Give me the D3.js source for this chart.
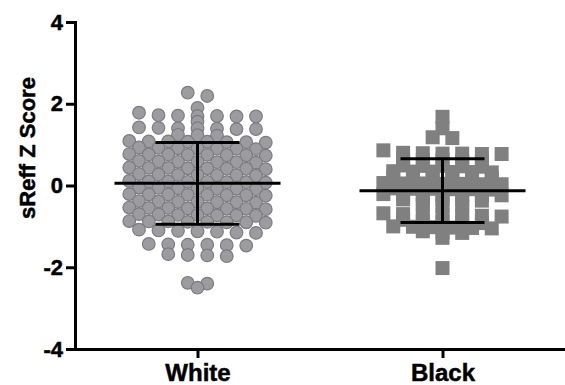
<!DOCTYPE html>
<html>
<head>
<meta charset="utf-8">
<script src="https://cdn.jsdelivr.net/npm/d3@7"></script>
<style>
  body { margin: 0; background: #fff; }
  text { font-family: "Liberation Sans", Arial, sans-serif; font-weight: bold; fill: #000; }
</style>
</head>
<body>
<div id="chart"></div>
<script>
// data
const categories = ["White", "Black"];

const whiteValues = [
  2.27, 2.19,
  1.90,
  1.78, 1.72, 1.71, 1.70, 1.70, 1.69, 1.69,
  1.56,
  1.42, 1.41, 1.40, 1.40, 1.39, 1.38, 1.38,
  1.24, 1.23, 1.22,
  1.09, 1.08, 1.08, 1.07, 1.07, 1.06, 1.06, 1.05,
  0.93, 0.92, 0.91, 0.91, 0.90, 0.90, 0.89,
  0.77, 0.76, 0.76, 0.75, 0.75, 0.74, 0.74, 0.73,
  0.60, 0.59, 0.58, 0.58, 0.57, 0.57, 0.56,
  0.44, 0.43, 0.43, 0.42, 0.42, 0.41, 0.41, 0.40,
  0.28, 0.27, 0.26, 0.26, 0.25, 0.25, 0.24,
  0.11, 0.10, 0.10, 0.09, 0.09, 0.08, 0.08, 0.07,
  -0.05, -0.06, -0.07, -0.07, -0.08, -0.08, -0.09,
  -0.21, -0.22, -0.22, -0.23, -0.23, -0.24, -0.24, -0.25,
  -0.38, -0.39, -0.40, -0.40, -0.41, -0.41, -0.42,
  -0.54, -0.55, -0.55, -0.56, -0.56, -0.57, -0.57, -0.58,
  -0.70, -0.71, -0.72, -0.72, -0.73, -0.73, -0.74,
  -0.87, -0.88, -0.88, -0.89, -0.89, -0.90, -0.90, -0.91,
  -1.08, -1.10, -1.11, -1.12, -1.13, -1.15, -1.16,
  -1.43, -1.44, -1.45, -1.45, -1.46, -1.47,
  -1.68, -1.70, -1.71, -1.73,
  -2.38, -2.40,
  -2.50
];

const blackValues = [
  1.68,
  1.40,
  1.18, 1.16,
  0.86, 0.80, 0.79, 0.78, 0.78, 0.77, 0.77,
  0.63, 0.62, 0.62, 0.61, 0.60,
  0.49, 0.48, 0.48, 0.47, 0.46,
  0.35, 0.34, 0.34, 0.33, 0.33, 0.32,
  0.21, 0.20, 0.20, 0.19, 0.19, 0.18,
  0.06, 0.05, 0.05, 0.04, 0.04, 0.03, 0.03,
  -0.07, -0.08, -0.08, -0.09, -0.09, -0.10,
  -0.21, -0.22, -0.22, -0.23, -0.23, -0.24, -0.24,
  -0.34, -0.35, -0.35, -0.36, -0.37,
  -0.48, -0.50, -0.52,
  -0.68, -0.70, -0.71, -0.72, -0.73, -0.74, -0.76,
  -0.84, -0.86, -0.88, -0.90, -0.92,
  -1.00, -1.01, -1.02, -1.03, -1.04, -1.05,
  -1.12, -1.15, -1.16,
  -1.28,
  -2.02
];

// mean and SD as drawn in the reference
const means = [0.054, -0.127];
const sds = [1.0, 0.78];

const yTicks = [-4, -2, 0, 2, 4];

const width = 565, height = 385;

const svg = d3.select("#chart").append("svg")
    .attr("width", width)
    .attr("height", height);

const x = d3.scalePoint()
    .domain(categories)
    .range([75, 565])
    .padding(0.5);

const y = d3.scaleLinear()
    .domain([-4, 4])
    .range([349, 22]);

// group sorted values into rows and spread each row around the centre
function rowLayout(values, maxPerRow, gap) {
    const sorted = values.slice().sort((a, b) => b - a);
    const rows = [];
    let row = [];
    sorted.forEach(v => {
        if (row.length && (row.length >= maxPerRow || row[0] - v > gap)) {
            rows.push(row);
            row = [];
        }
        row.push(v);
    });
    if (row.length) rows.push(row);
    return rows.flatMap(r => r.map((v, i) => ({ value: v, slot: i - (r.length - 1) / 2 })));
}

const whitePts = rowLayout(whiteValues, 8, 0.1);
const blackPts = rowLayout(blackValues, 7, 0.1);

svg.append("g")
    .selectAll("circle")
    .data(whitePts)
    .join("circle")
    .attr("cx", d => x("White") + d.slot * 19.5)
    .attr("cy", d => y(d.value))
    .attr("r", 6.3)
    .attr("fill", "#9c9ca0")
    .attr("stroke", "#7c7c80")
    .attr("stroke-width", 1.2);

const sq = 14;
svg.append("g")
    .selectAll("rect")
    .data(blackPts)
    .join("rect")
    .attr("x", d => x("Black") + d.slot * 19.7 - sq / 2)
    .attr("y", d => y(d.value) - sq / 2)
    .attr("width", sq)
    .attr("height", sq)
    .attr("fill", "#808080");

// mean +/- SD bars
const bars = svg.append("g")
    .attr("stroke", "#000")
    .attr("stroke-width", 3);

categories.forEach((c, i) => {
    const cx = x(c);
    bars.append("line")
        .attr("x1", cx - 83).attr("x2", cx + 83)
        .attr("y1", y(means[i])).attr("y2", y(means[i]));
    bars.append("line")
        .attr("x1", cx).attr("x2", cx)
        .attr("y1", y(means[i] + sds[i])).attr("y2", y(means[i] - sds[i]));
    [means[i] + sds[i], means[i] - sds[i]].forEach(v => {
        bars.append("line")
            .attr("x1", cx - 42).attr("x2", cx + 42)
            .attr("y1", y(v)).attr("y2", y(v));
    });
});

// axes
const yAxis = svg.append("g")
    .attr("transform", "translate(75,0)")
    .call(d3.axisLeft(y).tickValues(yTicks).tickFormat(d => String(d))
        .tickSize(9).tickSizeOuter(0).tickPadding(3));

const xAxis = svg.append("g")
    .attr("transform", "translate(0,349)")
    .call(d3.axisBottom(x).tickSize(9).tickSizeOuter(0).tickPadding(6));

[yAxis, xAxis].forEach(g => {
    g.select(".domain").attr("stroke", "#000").attr("stroke-width", 3).attr("stroke-linecap", "square");
    g.selectAll(".tick line").attr("stroke", "#000").attr("stroke-width", 3);
    g.selectAll("text")
        .attr("fill", "#000")
        .attr("stroke", "#000")
        .attr("stroke-width", 0.5)
        .style("font-family", "'Liberation Sans', Arial, sans-serif")
        .style("font-weight", "bold");
});

yAxis.selectAll("text").style("font-size", "22px");
xAxis.selectAll("text").style("font-size", "24px");

svg.append("text")
    .attr("transform", "translate(35,148) rotate(-90)")
    .attr("text-anchor", "middle")
    .attr("stroke", "#000")
    .attr("stroke-width", 0.5)
    .style("font-size", "22px")
    .text("sReff Z Score");
</script>
</body>
</html>
